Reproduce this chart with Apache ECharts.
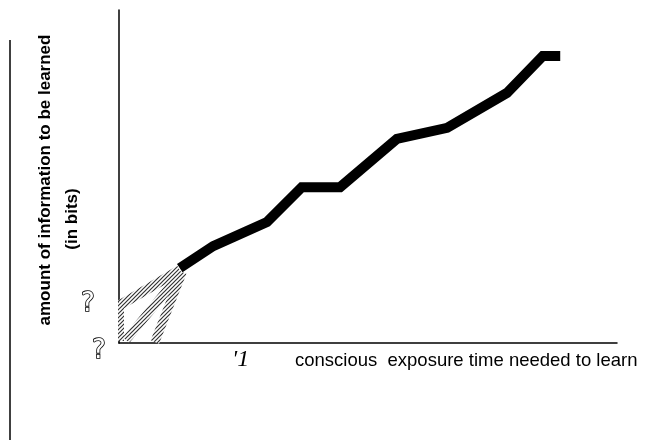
<!DOCTYPE html>
<html>
<head>
<meta charset="utf-8">
<script src="https://cdn.jsdelivr.net/npm/echarts@6/dist/echarts.min.js"></script>
<style>
html,body{margin:0;padding:0;background:#fff;}
#chart{width:670px;height:446px;}
</style>
</head>
<body>
<div id="chart"></div>
<script>
// Main learning curve: conscious exposure time (x) vs amount of information (y), arbitrary units
const timeValues = [12.2, 18.9, 29.7, 36.7, 44.4, 55.8, 65.9, 77.9, 85.1, 88.6];
const infoValues = [22.5, 29.1, 36.3, 46.8, 46.8, 61.3, 64.6, 75.1, 86.2, 86.2];
// Uncertain (hatched) extrapolations toward the origin
const hatchA = [[0.2, 11.4], [12.2, 21.9]];
const hatchB = [[1.4, 0.9], [11.8, 19.8]];
const hatchC = [[7.2, 0.3], [12.7, 21.3]];
const hatchAxis = [[0.4, 0.6], [0.4, 12.0]];
const xAxisTitle = 'conscious  exposure time needed to learn';
const yAxisTitle1 = 'amount of information to be learned';
const yAxisTitle2 = '(in bits)';
const questionMarks = ['?', '?'];

const chart = echarts.init(document.getElementById('chart'));

function hatchPattern() {
  const c = document.createElement('canvas');
  c.width = 4; c.height = 4;
  const g = c.getContext('2d');
  g.fillStyle = '#ffffff';
  g.fillRect(0, 0, 4, 4);
  g.strokeStyle = '#333';
  g.lineWidth = 1.2;
  g.beginPath();
  g.moveTo(0, 4); g.lineTo(4, 0);
  g.moveTo(-1, 1); g.lineTo(1, -1);
  g.moveTo(3, 5); g.lineTo(5, 3);
  g.stroke();
  return c;
}
const pat = { image: hatchPattern(), repeat: 'repeat' };

const mainData = timeValues.map((t, i) => [t, infoValues[i]]);

function hatchSeries(d, w) {
  return {
    type: 'line', data: d, symbol: 'none', silent: true, z: 2,
    lineStyle: { color: pat, width: w, cap: 'butt' }
  };
}

chart.setOption({
  animation: false,
  backgroundColor: '#fff',
  grid: { left: 119, right: 53, top: 10, bottom: 103 },
  xAxis: {
    type: 'value', min: 0, max: 100,
    axisLine: { show: true, lineStyle: { color: '#000', width: 1.5 } },
    axisTick: { show: false }, axisLabel: { show: false }, splitLine: { show: false }
  },
  yAxis: {
    type: 'value', min: 0, max: 100,
    axisLine: { show: true, lineStyle: { color: '#000', width: 1.5 } },
    axisTick: { show: false }, axisLabel: { show: false }, splitLine: { show: false }
  },
  series: [
    hatchSeries(hatchA, 10),
    hatchSeries(hatchB, 9),
    hatchSeries(hatchC, 9),
    hatchSeries(hatchAxis, 6),
    {
      type: 'line', data: mainData, symbol: 'none', z: 3,
      lineStyle: { color: '#000', width: 10, join: 'miter', cap: 'butt' }
    }
  ],
  graphic: [
    { type: 'line', shape: { x1: 10, y1: 40, x2: 10, y2: 440 }, style: { stroke: '#000', lineWidth: 1.5 } },
    { type: 'text', x: 45, y: 180, rotation: Math.PI / 2,
      style: { text: yAxisTitle1, font: 'bold 17px "Liberation Sans", Arial, sans-serif', fill: '#000', textAlign: 'center', textVerticalAlign: 'middle' } },
    { type: 'text', x: 72, y: 219, rotation: Math.PI / 2,
      style: { text: yAxisTitle2, font: 'bold 17px "Liberation Sans", Arial, sans-serif', fill: '#000', textAlign: 'center', textVerticalAlign: 'middle' } },
    { type: 'text', x: 232, y: 360,
      style: { text: "'1", font: 'italic 24px "Liberation Serif", "Times New Roman", serif', fill: '#000', textAlign: 'left', textVerticalAlign: 'middle' } },
    { type: 'text', x: 295, y: 361,
      style: { text: xAxisTitle, font: '18.5px "Liberation Sans", Arial, sans-serif', fill: '#000', textAlign: 'left', textVerticalAlign: 'middle' } },
    { type: 'text', x: 88, y: 304,
      style: { text: questionMarks[0], font: '26px "DejaVu Sans", sans-serif', fill: '#fff', stroke: '#000', lineWidth: 1.6, textAlign: 'center', textVerticalAlign: 'middle' } },
    { type: 'text', x: 99, y: 351,
      style: { text: questionMarks[1], font: '26px "DejaVu Sans", sans-serif', fill: '#fff', stroke: '#000', lineWidth: 1.6, textAlign: 'center', textVerticalAlign: 'middle' } }
  ]
});
</script>
</body>
</html>
